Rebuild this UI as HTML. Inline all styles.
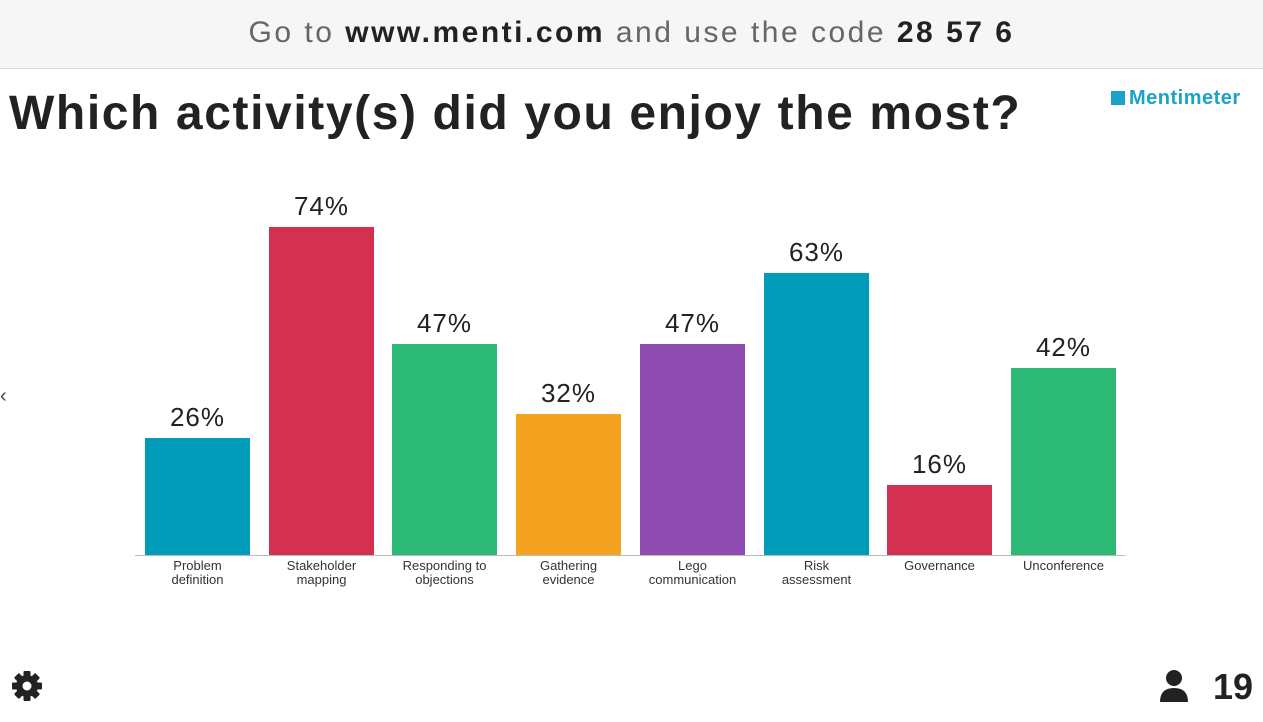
<!DOCTYPE html>
<html><head><style>
body{margin:0;width:1263px;height:722px;background:#fff;font-family:"Liberation Sans",sans-serif;position:relative;overflow:hidden;color:#222}
.hdr{position:absolute;left:0;top:0;width:1263px;height:68px;background:#f6f6f6;border-bottom:1px solid #d8d8d8;text-align:center;line-height:66px;font-size:30px;color:#666;letter-spacing:2.5px}
.hdr b{color:#222}
.title{position:absolute;left:9px;top:86px;font-size:48px;font-weight:bold;color:#222;white-space:nowrap;letter-spacing:1.6px}
.logo{position:absolute;left:1111px;top:87px;color:#1aa3c9;font-size:20px;font-weight:bold;letter-spacing:0.5px}
.logo span{display:inline-block;width:14px;height:14px;background:#1aa3c9;margin-right:4px;vertical-align:-1px}
.bar{position:absolute;width:105px}
.val{position:absolute;width:105px;text-align:center;font-size:26px;color:#222;letter-spacing:1px}
.lab{position:absolute;width:123px;text-align:center;font-size:13px;line-height:14px;color:#333;top:559px}
.axis{position:absolute;left:135px;top:555px;width:990px;height:1px;background:#bbb}
</style></head><body>
<div class="hdr">Go to <b>www.menti.com</b> and use the code <b>28 57 6</b></div>
<div class="title">Which activity(s) did you enjoy the most?</div>
<div class="logo"><span></span>Mentimeter</div>
<div style="position:absolute;left:0;top:385px;font-size:20px;color:#444">‹</div>

<div class="bar" style="left:145px;top:438px;height:117px;background:#009cb9"></div>
<div class="bar" style="left:269px;top:227px;height:328px;background:#d3314f"></div>
<div class="bar" style="left:392px;top:344px;height:211px;background:#2cb976"></div>
<div class="bar" style="left:516px;top:414px;height:141px;background:#f4a321"></div>
<div class="bar" style="left:640px;top:344px;height:211px;background:#8e4cb0"></div>
<div class="bar" style="left:764px;top:273px;height:282px;background:#009cb9"></div>
<div class="bar" style="left:887px;top:485px;height:70px;background:#d3314f"></div>
<div class="bar" style="left:1011px;top:368px;height:187px;background:#2cb976"></div>

<div class="val" style="left:145px;top:402px">26%</div>
<div class="val" style="left:269px;top:191px">74%</div>
<div class="val" style="left:392px;top:308px">47%</div>
<div class="val" style="left:516px;top:378px">32%</div>
<div class="val" style="left:640px;top:308px">47%</div>
<div class="val" style="left:764px;top:237px">63%</div>
<div class="val" style="left:887px;top:449px">16%</div>
<div class="val" style="left:1011px;top:332px">42%</div>

<div class="axis"></div>
<div class="lab" style="left:136px">Problem<br>definition</div>
<div class="lab" style="left:260px">Stakeholder<br>mapping</div>
<div class="lab" style="left:383px">Responding to<br>objections</div>
<div class="lab" style="left:507px">Gathering<br>evidence</div>
<div class="lab" style="left:631px">Lego<br>communication</div>
<div class="lab" style="left:755px">Risk<br>assessment</div>
<div class="lab" style="left:878px">Governance</div>
<div class="lab" style="left:1002px">Unconference</div>

<svg style="position:absolute;left:11px;top:670px" width="32" height="32" viewBox="0 0 32 32">
<g fill="#222" transform="translate(16,16)">
<circle r="11"/>
<rect x="-3.5" y="-15" width="7" height="30" rx="1"/>
<rect x="-3.5" y="-15" width="7" height="30" rx="1" transform="rotate(45)"/>
<rect x="-3.5" y="-15" width="7" height="30" rx="1" transform="rotate(90)"/>
<rect x="-3.5" y="-15" width="7" height="30" rx="1" transform="rotate(135)"/>
<circle r="4.5" fill="#fff"/></g></svg>
<svg style="position:absolute;left:1158px;top:669px" width="32" height="34" viewBox="0 0 32 34">
<circle cx="16" cy="9" r="8" fill="#222"/>
<path d="M2 33 Q2 19 16 19 Q30 19 30 33 Z" fill="#222"/></svg>
<div style="position:absolute;left:1213px;top:666px;font-size:36px;font-weight:bold;color:#222">19</div>
</body></html>
